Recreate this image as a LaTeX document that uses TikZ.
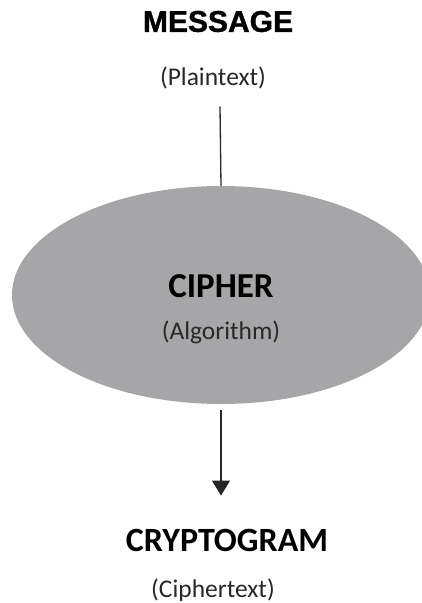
\documentclass[tikz,border=0pt]{standalone}
\usepackage{fontspec}
\setmainfont{Carlito}
\newfontfamily\headfont[FakeBold=1.2]{Liberation Sans}
\usetikzlibrary{shapes.geometric,arrows.meta}
\definecolor{ellgray}{RGB}{166,166,168}
\definecolor{subgray}{RGB}{40,40,40}
\tikzset{
  txt/.style={inner sep=0pt, anchor=center, text=black},
  title/.style={txt, font=\fontsize{34}{40}\selectfont\bfseries},
  sub/.style={txt, font=\fontsize{25.5}{30}\selectfont, text=subgray},
  conn/.style={line width=1.3pt, draw=black!85}
}
\begin{document}
\begin{tikzpicture}[x=1pt,y=-1pt]
\useasboundingbox (0,0) rectangle (422,603);
\node[ellipse, fill=ellgray, inner sep=0pt, minimum width=418pt, minimum height=218pt] (cipherbox) at (221,295) {};
\node[txt, font=\headfont\fontsize{30}{36}\selectfont\bfseries] (message) at (218,21.5) {MESSAGE};
\node[sub] (plain) at (213,78) {(Plaintext)};
\node[title, font=\fontsize{35}{40}\selectfont\bfseries] (cipher) at (221,286.5) {CIPHER};
\node[sub] (algo) at (221,332.5) {(Algorithm)};
\node[title] (crypto) at (227,540) {CRYPTOGRAM};
\node[sub] (ctext) at (213,590) {(Ciphertext)};
\draw[conn] ([xshift=7pt,yshift=-17pt]plain.south) -- (cipherbox.north);
\draw[conn, -{Triangle[width=18pt,length=15pt]}, shorten <=6pt, shorten >=33pt] (cipherbox.south) -- (cipherbox.south |- crypto.north);
\end{tikzpicture}
\end{document}
